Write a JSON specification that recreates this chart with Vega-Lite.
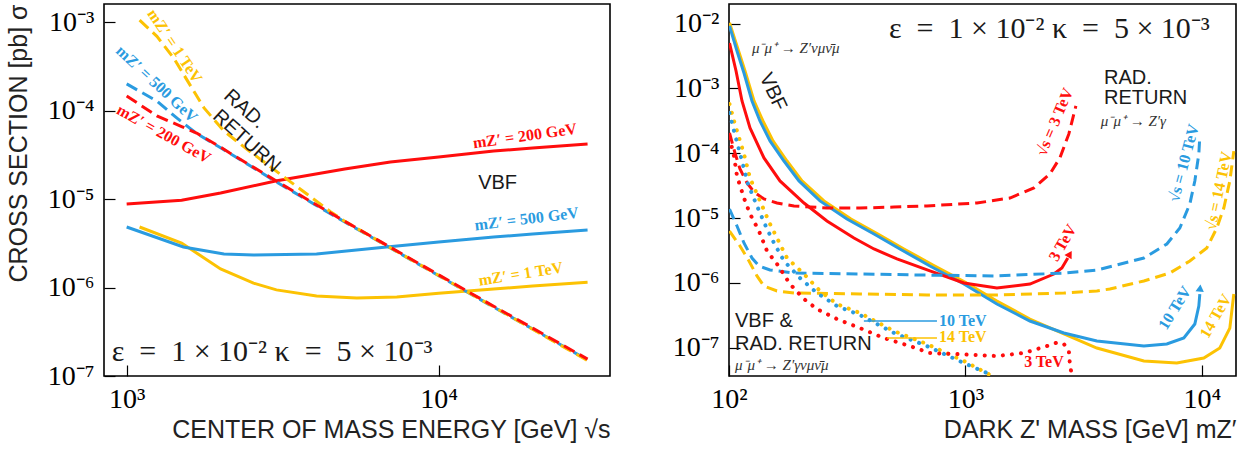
{
"$schema":"https://vega.github.io/schema/vega-lite/v6.json",
"background":"white",
"padding":{"left":5,"top":3,"right":0,"bottom":0},
"spacing":119,
"bounds":"flush",
"config":{
 "view":{"stroke":"#000","strokeWidth":1.6},
 "rule":{"color":"#000","strokeWidth":1.2},
 "axis":{"labelFont":"Liberation Serif","labelFontSize":28,"labelColor":"#000","titleFont":"Liberation Sans","titleFontSize":25,"titleFontWeight":"normal","titleColor":"#222","ticks":true,"tickColor":"#000","tickOpacity":1,"tickWidth":1.2,"domain":false,"grid":false,"labelFlush":false,"labelOverlap":false}
},
"datasets":{
 "LX":[{"v":900,"k":"minor"},{"v":1000,"k":"major"},{"v":2000,"k":"minor"},{"v":3000,"k":"minor"},{"v":4000,"k":"minor"},{"v":5000,"k":"minor"},{"v":6000,"k":"minor"},{"v":7000,"k":"minor"},{"v":8000,"k":"minor"},{"v":9000,"k":"minor"},{"v":10000,"k":"major"},{"v":20000,"k":"minor"},{"v":30000,"k":"minor"}],
 "LY":[{"v":1e-7,"k":"major"},{"v":2e-7,"k":"minor"},{"v":3e-7,"k":"minor"},{"v":4e-7,"k":"minor"},{"v":5e-7,"k":"minor"},{"v":6e-7,"k":"minor"},{"v":7e-7,"k":"minor"},{"v":8e-7,"k":"minor"},{"v":9e-7,"k":"minor"},{"v":1e-6,"k":"major"},{"v":2e-6,"k":"minor"},{"v":3e-6,"k":"minor"},{"v":4e-6,"k":"minor"},{"v":5e-6,"k":"minor"},{"v":6e-6,"k":"minor"},{"v":7e-6,"k":"minor"},{"v":8e-6,"k":"minor"},{"v":9e-6,"k":"minor"},{"v":1e-5,"k":"major"},{"v":2e-5,"k":"minor"},{"v":3e-5,"k":"minor"},{"v":4e-5,"k":"minor"},{"v":5e-5,"k":"minor"},{"v":6e-5,"k":"minor"},{"v":7e-5,"k":"minor"},{"v":8e-5,"k":"minor"},{"v":9e-5,"k":"minor"},{"v":1e-4,"k":"major"},{"v":2e-4,"k":"minor"},{"v":3e-4,"k":"minor"},{"v":4e-4,"k":"minor"},{"v":5e-4,"k":"minor"},{"v":6e-4,"k":"minor"},{"v":7e-4,"k":"minor"},{"v":8e-4,"k":"minor"},{"v":9e-4,"k":"minor"},{"v":1e-3,"k":"major"}],
 "RX":[{"v":100,"k":"major"},{"v":200,"k":"minor"},{"v":300,"k":"minor"},{"v":400,"k":"minor"},{"v":500,"k":"minor"},{"v":600,"k":"minor"},{"v":700,"k":"minor"},{"v":800,"k":"minor"},{"v":900,"k":"minor"},{"v":1000,"k":"major"},{"v":2000,"k":"minor"},{"v":3000,"k":"minor"},{"v":4000,"k":"minor"},{"v":5000,"k":"minor"},{"v":6000,"k":"minor"},{"v":7000,"k":"minor"},{"v":8000,"k":"minor"},{"v":9000,"k":"minor"},{"v":10000,"k":"major"}],
 "RY":[{"v":4e-8,"k":"minor"},{"v":5e-8,"k":"minor"},{"v":6e-8,"k":"minor"},{"v":7e-8,"k":"minor"},{"v":8e-8,"k":"minor"},{"v":9e-8,"k":"minor"},{"v":1e-7,"k":"major"},{"v":2e-7,"k":"minor"},{"v":3e-7,"k":"minor"},{"v":4e-7,"k":"minor"},{"v":5e-7,"k":"minor"},{"v":6e-7,"k":"minor"},{"v":7e-7,"k":"minor"},{"v":8e-7,"k":"minor"},{"v":9e-7,"k":"minor"},{"v":1e-6,"k":"major"},{"v":2e-6,"k":"minor"},{"v":3e-6,"k":"minor"},{"v":4e-6,"k":"minor"},{"v":5e-6,"k":"minor"},{"v":6e-6,"k":"minor"},{"v":7e-6,"k":"minor"},{"v":8e-6,"k":"minor"},{"v":9e-6,"k":"minor"},{"v":1e-5,"k":"major"},{"v":2e-5,"k":"minor"},{"v":3e-5,"k":"minor"},{"v":4e-5,"k":"minor"},{"v":5e-5,"k":"minor"},{"v":6e-5,"k":"minor"},{"v":7e-5,"k":"minor"},{"v":8e-5,"k":"minor"},{"v":9e-5,"k":"minor"},{"v":1e-4,"k":"major"},{"v":2e-4,"k":"minor"},{"v":3e-4,"k":"minor"},{"v":4e-4,"k":"minor"},{"v":5e-4,"k":"minor"},{"v":6e-4,"k":"minor"},{"v":7e-4,"k":"minor"},{"v":8e-4,"k":"minor"},{"v":9e-4,"k":"minor"},{"v":1e-3,"k":"major"},{"v":2e-3,"k":"minor"},{"v":3e-3,"k":"minor"},{"v":4e-3,"k":"minor"},{"v":5e-3,"k":"minor"},{"v":6e-3,"k":"minor"},{"v":7e-3,"k":"minor"},{"v":8e-3,"k":"minor"},{"v":9e-3,"k":"minor"},{"v":1e-2,"k":"major"}],
 "L":[
  {"p":"VBF","s":"1 TeV","x":1100,"y":4.83e-6},{"p":"VBF","s":"1 TeV","x":1500,"y":3.18e-6},{"p":"VBF","s":"1 TeV","x":2000,"y":1.62e-6},{"p":"VBF","s":"1 TeV","x":2550,"y":1.12e-6},{"p":"VBF","s":"1 TeV","x":3020,"y":9.4e-7},{"p":"VBF","s":"1 TeV","x":4060,"y":8.0e-7},{"p":"VBF","s":"1 TeV","x":5460,"y":7.6e-7},{"p":"VBF","s":"1 TeV","x":7340,"y":7.8e-7},{"p":"VBF","s":"1 TeV","x":10000,"y":8.6e-7},{"p":"VBF","s":"1 TeV","x":15000,"y":9.6e-7},{"p":"VBF","s":"1 TeV","x":20000,"y":1.04e-6},{"p":"VBF","s":"1 TeV","x":30000,"y":1.15e-6},
  {"p":"VBF","s":"500 GeV","x":1000,"y":4.83e-6},{"p":"VBF","s":"500 GeV","x":1520,"y":2.87e-6},{"p":"VBF","s":"500 GeV","x":2050,"y":2.39e-6},{"p":"VBF","s":"500 GeV","x":2550,"y":2.33e-6},{"p":"VBF","s":"500 GeV","x":4060,"y":2.39e-6},{"p":"VBF","s":"500 GeV","x":6810,"y":2.87e-6},{"p":"VBF","s":"500 GeV","x":10000,"y":3.27e-6},{"p":"VBF","s":"500 GeV","x":15000,"y":3.72e-6},{"p":"VBF","s":"500 GeV","x":20000,"y":4.03e-6},{"p":"VBF","s":"500 GeV","x":30000,"y":4.46e-6},
  {"p":"VBF","s":"200 GeV","x":1000,"y":8.8e-6},{"p":"VBF","s":"200 GeV","x":1500,"y":9.7e-6},{"p":"VBF","s":"200 GeV","x":2000,"y":1.17e-5},{"p":"VBF","s":"200 GeV","x":3000,"y":1.6e-5},{"p":"VBF","s":"200 GeV","x":5000,"y":2.18e-5},{"p":"VBF","s":"200 GeV","x":7000,"y":2.62e-5},{"p":"VBF","s":"200 GeV","x":10000,"y":2.98e-5},{"p":"VBF","s":"200 GeV","x":15000,"y":3.49e-5},{"p":"VBF","s":"200 GeV","x":20000,"y":3.77e-5},{"p":"VBF","s":"200 GeV","x":30000,"y":4.18e-5},
  {"p":"RR","s":"500 GeV","x":1000,"y":2.0e-4},{"p":"RR","s":"500 GeV","x":1250,"y":1.28e-4},{"p":"RR","s":"500 GeV","x":1450,"y":8.2e-5},{"p":"RR","s":"500 GeV","x":1675,"y":5.5e-5},{"p":"RR","s":"500 GeV","x":2000,"y":3.8e-5},{"p":"RR","s":"500 GeV","x":2500,"y":2.35e-5},{"p":"RR","s":"500 GeV","x":3000,"y":1.58e-5},{"p":"RR","s":"500 GeV","x":4000,"y":8.7e-6},{"p":"RR","s":"500 GeV","x":5000,"y":5.5e-6},{"p":"RR","s":"500 GeV","x":7000,"y":2.8e-6},{"p":"RR","s":"500 GeV","x":10000,"y":1.36e-6},{"p":"RR","s":"500 GeV","x":15000,"y":6.0e-7},{"p":"RR","s":"500 GeV","x":20000,"y":3.4e-7},{"p":"RR","s":"500 GeV","x":30000,"y":1.52e-7},
  {"p":"RR","s":"1 TeV","x":1100,"y":1.05e-3},{"p":"RR","s":"1 TeV","x":1250,"y":6.9e-4},{"p":"RR","s":"1 TeV","x":1415,"y":3.92e-4},{"p":"RR","s":"1 TeV","x":1590,"y":1.99e-4},{"p":"RR","s":"1 TeV","x":1770,"y":1.07e-4},{"p":"RR","s":"1 TeV","x":2050,"y":5.87e-5},{"p":"RR","s":"1 TeV","x":2425,"y":3.67e-5},{"p":"RR","s":"1 TeV","x":2810,"y":2.49e-5},{"p":"RR","s":"1 TeV","x":3260,"y":1.68e-5},{"p":"RR","s":"1 TeV","x":3780,"y":1.14e-5},{"p":"RR","s":"1 TeV","x":4500,"y":7.2e-6},{"p":"RR","s":"1 TeV","x":5000,"y":5.6e-6},{"p":"RR","s":"1 TeV","x":7000,"y":2.82e-6},{"p":"RR","s":"1 TeV","x":10000,"y":1.37e-6},{"p":"RR","s":"1 TeV","x":15000,"y":6.05e-7},{"p":"RR","s":"1 TeV","x":20000,"y":3.38e-7},{"p":"RR","s":"1 TeV","x":30000,"y":1.49e-7},
  {"p":"RR","s":"200 GeV","x":1000,"y":1.46e-4},{"p":"RR","s":"200 GeV","x":1250,"y":8.7e-5},{"p":"RR","s":"200 GeV","x":1500,"y":6.6e-5},{"p":"RR","s":"200 GeV","x":1675,"y":5.57e-5},{"p":"RR","s":"200 GeV","x":2000,"y":3.85e-5},{"p":"RR","s":"200 GeV","x":2140,"y":3.31e-5},{"p":"RR","s":"200 GeV","x":2500,"y":2.38e-5},{"p":"RR","s":"200 GeV","x":3090,"y":1.52e-5},{"p":"RR","s":"200 GeV","x":3865,"y":9.5e-6},{"p":"RR","s":"200 GeV","x":5000,"y":5.6e-6},{"p":"RR","s":"200 GeV","x":7000,"y":2.85e-6},{"p":"RR","s":"200 GeV","x":10000,"y":1.39e-6},{"p":"RR","s":"200 GeV","x":15000,"y":6.15e-7},{"p":"RR","s":"200 GeV","x":20000,"y":3.48e-7},{"p":"RR","s":"200 GeV","x":30000,"y":1.55e-7}
 ],
 "R":[
  {"p":"VBF","s":"14 TeV","x":100.5,"y":1.03e-2},{"p":"VBF","s":"14 TeV","x":109.1,"y":4.07e-3},{"p":"VBF","s":"14 TeV","x":116.9,"y":1.86e-3},{"p":"VBF","s":"14 TeV","x":127.6,"y":6.41e-4},{"p":"VBF","s":"14 TeV","x":139.2,"y":3.15e-4},{"p":"VBF","s":"14 TeV","x":153.5,"y":1.55e-4},{"p":"VBF","s":"14 TeV","x":175.9,"y":7.6e-5},{"p":"VBF","s":"14 TeV","x":203.6,"y":3.74e-5},{"p":"VBF","s":"14 TeV","x":252.2,"y":1.84e-5},{"p":"VBF","s":"14 TeV","x":328.1,"y":9.68e-6},{"p":"VBF","s":"14 TeV","x":426.6,"y":5.69e-6},{"p":"VBF","s":"14 TeV","x":549.5,"y":3.34e-6},{"p":"VBF","s":"14 TeV","x":728.8,"y":1.89e-6},{"p":"VBF","s":"14 TeV","x":995,"y":1.03e-6},{"p":"VBF","s":"14 TeV","x":1359,"y":5.26e-7},{"p":"VBF","s":"14 TeV","x":1874,"y":2.77e-7},{"p":"VBF","s":"14 TeV","x":2609,"y":1.63e-7},{"p":"VBF","s":"14 TeV","x":3597,"y":9.89e-8},{"p":"VBF","s":"14 TeV","x":5686,"y":6.23e-8},{"p":"VBF","s":"14 TeV","x":7840,"y":5.8e-8},{"p":"VBF","s":"14 TeV","x":10196,"y":6.93e-8},{"p":"VBF","s":"14 TeV","x":11914,"y":9.89e-8},{"p":"VBF","s":"14 TeV","x":13136,"y":2.01e-7},{"p":"VBF","s":"14 TeV","x":13655,"y":6.74e-7},
  {"p":"VBF","s":"10 TeV","x":100.5,"y":9.22e-3},{"p":"VBF","s":"10 TeV","x":108.1,"y":3.79e-3},{"p":"VBF","s":"10 TeV","x":115.7,"y":1.73e-3},{"p":"VBF","s":"10 TeV","x":125.1,"y":6.41e-4},{"p":"VBF","s":"10 TeV","x":135.2,"y":3.15e-4},{"p":"VBF","s":"10 TeV","x":149.1,"y":1.55e-4},{"p":"VBF","s":"10 TeV","x":170.8,"y":7.6e-5},{"p":"VBF","s":"10 TeV","x":197.7,"y":3.74e-5},{"p":"VBF","s":"10 TeV","x":242.6,"y":1.84e-5},{"p":"VBF","s":"10 TeV","x":315.5,"y":9.68e-6},{"p":"VBF","s":"10 TeV","x":410.5,"y":5.69e-6},{"p":"VBF","s":"10 TeV","x":528.5,"y":3.34e-6},{"p":"VBF","s":"10 TeV","x":707.8,"y":1.82e-6},{"p":"VBF","s":"10 TeV","x":985.6,"y":9.61e-7},{"p":"VBF","s":"10 TeV","x":1359,"y":4.72e-7},{"p":"VBF","s":"10 TeV","x":1874,"y":2.58e-7},{"p":"VBF","s":"10 TeV","x":2609,"y":1.69e-7},{"p":"VBF","s":"10 TeV","x":3597,"y":1.27e-7},{"p":"VBF","s":"10 TeV","x":5686,"y":1.06e-7},{"p":"VBF","s":"10 TeV","x":7112,"y":1.14e-7},{"p":"VBF","s":"10 TeV","x":8393,"y":1.41e-7},{"p":"VBF","s":"10 TeV","x":9342,"y":2.32e-7},{"p":"VBF","s":"10 TeV","x":9712,"y":4.4e-7},{"p":"VBF","s":"10 TeV","x":9807,"y":6.74e-7},
  {"p":"VBF","s":"3 TeV","x":100.5,"y":5.03e-3},{"p":"VBF","s":"3 TeV","x":107.1,"y":1.86e-3},{"p":"VBF","s":"3 TeV","x":113.5,"y":6.41e-4},{"p":"VBF","s":"3 TeV","x":122.7,"y":2.46e-4},{"p":"VBF","s":"3 TeV","x":140.6,"y":8.46e-5},{"p":"VBF","s":"3 TeV","x":164.3,"y":3.74e-5},{"p":"VBF","s":"3 TeV","x":207.6,"y":1.71e-5},{"p":"VBF","s":"3 TeV","x":259.6,"y":9.02e-6},{"p":"VBF","s":"3 TeV","x":337.8,"y":4.93e-6},{"p":"VBF","s":"3 TeV","x":410.5,"y":3.34e-6},{"p":"VBF","s":"3 TeV","x":513.4,"y":2.34e-6},{"p":"VBF","s":"3 TeV","x":707.8,"y":1.53e-6},{"p":"VBF","s":"3 TeV","x":985.6,"y":9.96e-7},{"p":"VBF","s":"3 TeV","x":1359,"y":8.34e-7},{"p":"VBF","s":"3 TeV","x":1874,"y":9.61e-7},{"p":"VBF","s":"3 TeV","x":2367,"y":1.37e-6},{"p":"VBF","s":"3 TeV","x":2559,"y":1.7e-6},{"p":"VBF","s":"3 TeV","x":2711,"y":2.42e-6},
  {"p":"RR","s":"14 TeV","x":100.5,"y":6.32e-6},{"p":"RR","s":"14 TeV","x":111.3,"y":3.71e-6},{"p":"RR","s":"14 TeV","x":121.5,"y":2.18e-6},{"p":"RR","s":"14 TeV","x":131.3,"y":1.28e-6},{"p":"RR","s":"14 TeV","x":140.6,"y":8.95e-7},{"p":"RR","s":"14 TeV","x":159.6,"y":7.5e-7},{"p":"RR","s":"14 TeV","x":188.3,"y":6.98e-7},{"p":"RR","s":"14 TeV","x":358.1,"y":6.74e-7},{"p":"RR","s":"14 TeV","x":687.4,"y":6.51e-7},{"p":"RR","s":"14 TeV","x":1359,"y":6.51e-7},{"p":"RR","s":"14 TeV","x":2609,"y":6.98e-7},{"p":"RR","s":"14 TeV","x":3597,"y":7.5e-7},{"p":"RR","s":"14 TeV","x":4083,"y":8.05e-7},{"p":"RR","s":"14 TeV","x":5686,"y":1.07e-6},{"p":"RR","s":"14 TeV","x":7323,"y":1.42e-6},{"p":"RR","s":"14 TeV","x":8899,"y":2.18e-6},{"p":"RR","s":"14 TeV","x":10499,"y":3.46e-6},{"p":"RR","s":"14 TeV","x":11572,"y":7.03e-6},{"p":"RR","s":"14 TeV","x":12389,"y":1.43e-5},{"p":"RR","s":"14 TeV","x":13136,"y":3.74e-5},{"p":"RR","s":"14 TeV","x":13655,"y":1.08e-4},
  {"p":"RR","s":"10 TeV","x":100.5,"y":1.38e-5},{"p":"RR","s":"10 TeV","x":108.1,"y":7.55e-6},{"p":"RR","s":"10 TeV","x":115.7,"y":4.13e-6},{"p":"RR","s":"10 TeV","x":125.1,"y":2.42e-6},{"p":"RR","s":"10 TeV","x":133.9,"y":1.82e-6},{"p":"RR","s":"10 TeV","x":149.1,"y":1.58e-6},{"p":"RR","s":"10 TeV","x":188.3,"y":1.42e-6},{"p":"RR","s":"10 TeV","x":358.1,"y":1.37e-6},{"p":"RR","s":"10 TeV","x":687.4,"y":1.32e-6},{"p":"RR","s":"10 TeV","x":1359,"y":1.28e-6},{"p":"RR","s":"10 TeV","x":2609,"y":1.42e-6},{"p":"RR","s":"10 TeV","x":3597,"y":1.58e-6},{"p":"RR","s":"10 TeV","x":5686,"y":2.42e-6},{"p":"RR","s":"10 TeV","x":7112,"y":3.98e-6},{"p":"RR","s":"10 TeV","x":8072,"y":7.03e-6},{"p":"RR","s":"10 TeV","x":8899,"y":1.65e-5},{"p":"RR","s":"10 TeV","x":9342,"y":3.74e-5},{"p":"RR","s":"10 TeV","x":9712,"y":9.75e-5},{"p":"RR","s":"10 TeV","x":9807,"y":1.85e-4},
  {"p":"RR","s":"3 TeV","x":100.5,"y":2.06e-4},{"p":"RR","s":"3 TeV","x":106,"y":1.01e-4},{"p":"RR","s":"3 TeV","x":111.3,"y":5.73e-5},{"p":"RR","s":"3 TeV","x":119.2,"y":3.48e-5},{"p":"RR","s":"3 TeV","x":127.6,"y":2.53e-5},{"p":"RR","s":"3 TeV","x":140.6,"y":1.97e-5},{"p":"RR","s":"3 TeV","x":159.6,"y":1.71e-5},{"p":"RR","s":"3 TeV","x":188.3,"y":1.54e-5},{"p":"RR","s":"3 TeV","x":259.6,"y":1.43e-5},{"p":"RR","s":"3 TeV","x":358.1,"y":1.43e-5},{"p":"RR","s":"3 TeV","x":498.6,"y":1.48e-5},{"p":"RR","s":"3 TeV","x":687.4,"y":1.54e-5},{"p":"RR","s":"3 TeV","x":1119,"y":1.71e-5},{"p":"RR","s":"3 TeV","x":1543,"y":2.04e-5},{"p":"RR","s":"3 TeV","x":1948,"y":2.92e-5},{"p":"RR","s":"3 TeV","x":2277,"y":4.8e-5},{"p":"RR","s":"3 TeV","x":2509,"y":8.46e-5},{"p":"RR","s":"3 TeV","x":2739,"y":1.99e-4},{"p":"RR","s":"3 TeV","x":2933,"y":5.37e-4},
  {"p":"BOTH","s":"14 TeV","x":100.5,"y":5.77e-4},{"p":"BOTH","s":"14 TeV","x":105,"y":3.15e-4},{"p":"BOTH","s":"14 TeV","x":115.7,"y":9.75e-5},{"p":"BOTH","s":"14 TeV","x":122.7,"y":4.16e-5},{"p":"BOTH","s":"14 TeV","x":135.2,"y":1.84e-5},{"p":"BOTH","s":"14 TeV","x":149.1,"y":8.11e-6},{"p":"BOTH","s":"14 TeV","x":159.6,"y":4.93e-6},{"p":"BOTH","s":"14 TeV","x":175.9,"y":2.42e-6},{"p":"BOTH","s":"14 TeV","x":207.6,"y":1.37e-6},{"p":"BOTH","s":"14 TeV","x":242.6,"y":7.5e-7},{"p":"BOTH","s":"14 TeV","x":286.2,"y":4.72e-7},{"p":"BOTH","s":"14 TeV","x":358.1,"y":3.43e-7},{"p":"BOTH","s":"14 TeV","x":498.6,"y":1.81e-7},{"p":"BOTH","s":"14 TeV","x":687.4,"y":1.14e-7},{"p":"BOTH","s":"14 TeV","x":985.6,"y":6.23e-8},{"p":"BOTH","s":"14 TeV","x":1290,"y":3.7e-8},
  {"p":"BOTH","s":"10 TeV","x":100.5,"y":4.19e-4},{"p":"BOTH","s":"10 TeV","x":105,"y":2.21e-4},{"p":"BOTH","s":"10 TeV","x":113.5,"y":7.6e-5},{"p":"BOTH","s":"10 TeV","x":120.3,"y":3.36e-5},{"p":"BOTH","s":"10 TeV","x":131.3,"y":1.54e-5},{"p":"BOTH","s":"10 TeV","x":144.8,"y":6.79e-6},{"p":"BOTH","s":"10 TeV","x":155,"y":4.13e-6},{"p":"BOTH","s":"10 TeV","x":170.8,"y":2.18e-6},{"p":"BOTH","s":"10 TeV","x":199.7,"y":1.19e-6},{"p":"BOTH","s":"10 TeV","x":235.6,"y":6.98e-7},{"p":"BOTH","s":"10 TeV","x":286.2,"y":4.4e-7},{"p":"BOTH","s":"10 TeV","x":358.1,"y":3.19e-7},{"p":"BOTH","s":"10 TeV","x":498.6,"y":1.69e-7},{"p":"BOTH","s":"10 TeV","x":687.4,"y":1.06e-7},{"p":"BOTH","s":"10 TeV","x":985.6,"y":5.8e-8},{"p":"BOTH","s":"10 TeV","x":1320,"y":3.66e-8},
  {"p":"BOTH","s":"3 TeV","x":100.5,"y":1.72e-4},{"p":"BOTH","s":"3 TeV","x":105,"y":9.08e-5},{"p":"BOTH","s":"3 TeV","x":108.1,"y":4.44e-5},{"p":"BOTH","s":"3 TeV","x":115.7,"y":2.04e-5},{"p":"BOTH","s":"3 TeV","x":122.7,"y":1.16e-5},{"p":"BOTH","s":"3 TeV","x":133.9,"y":6.32e-6},{"p":"BOTH","s":"3 TeV","x":144.8,"y":3.1e-6},{"p":"BOTH","s":"3 TeV","x":159.6,"y":1.96e-6},{"p":"BOTH","s":"3 TeV","x":181.1,"y":9.61e-7},{"p":"BOTH","s":"3 TeV","x":207.6,"y":5.64e-7},{"p":"BOTH","s":"3 TeV","x":235.6,"y":3.95e-7},{"p":"BOTH","s":"3 TeV","x":286.2,"y":2.77e-7},{"p":"BOTH","s":"3 TeV","x":358.1,"y":2.01e-7},{"p":"BOTH","s":"3 TeV","x":452.3,"y":1.41e-7},{"p":"BOTH","s":"3 TeV","x":582.5,"y":1.06e-7},{"p":"BOTH","s":"3 TeV","x":707.8,"y":8.28e-8},{"p":"BOTH","s":"3 TeV","x":920.5,"y":7.98e-8},{"p":"BOTH","s":"3 TeV","x":1359,"y":7.44e-8},{"p":"BOTH","s":"3 TeV","x":1768,"y":8.28e-8},{"p":"BOTH","s":"3 TeV","x":2211,"y":1.06e-7},{"p":"BOTH","s":"3 TeV","x":2440,"y":1.2e-7},{"p":"BOTH","s":"3 TeV","x":2609,"y":1.14e-7},{"p":"BOTH","s":"3 TeV","x":2739,"y":8.89e-8},{"p":"BOTH","s":"3 TeV","x":2766,"y":5.6e-8},{"p":"BOTH","s":"3 TeV","x":2820,"y":3.7e-8}
 ]
},
"hconcat":[
{
 "width":506,"height":372,
 "data":{"name":"L"},
 "resolve":{"axis":{"x":"independent","y":"independent"}},
 "encoding":{
  "x":{"field":"x","type":"quantitative","scale":{"type":"log","domain":[846,35400],"nice":false},"axis":null},
  "y":{"field":"y","type":"quantitative","scale":{"type":"log","domain":[1e-7,1.6e-3],"nice":false},"axis":null}
 },
 "layer":[
  {"transform":[{"filter":"datum.p=='VBF'"}],"mark":{"type":"line","opacity":0},
   "encoding":{
    "x":{"field":"x","type":"quantitative","scale":{"type":"log","domain":[846,35400],"nice":false},
     "axis":{"orient":"bottom","offset":-11,"values":[1000,10000],"labelExpr":"datum.value==1000?'10³':'10⁴'","tickSize":11,"labelPadding":9,"title":"CENTER OF MASS ENERGY [GeV]  √s","titleAnchor":"end","titlePadding":4}},
    "y":{"field":"y","type":"quantitative","scale":{"type":"log","domain":[1e-7,1.6e-3],"nice":false},
     "axis":{"orient":"left","offset":-11,"values":[1e-7,1e-6,1e-5,1e-4,1e-3],"labelExpr":"datum.value==0.001?'10⁻³':datum.value==0.0001?'10⁻⁴':datum.value==0.00001?'10⁻⁵':datum.value==0.000001?'10⁻⁶':'10⁻⁷'","tickSize":11,"labelPadding":10,"title":"CROSS SECTION [pb]  σ","titleAnchor":"end","titlePadding":16}}
   }},
  {"data":{"name":"LX"},"transform":[{"filter":"datum.k=='major'"}],"mark":{"type":"rule"},"encoding":{"x":{"field":"v","type":"quantitative"},"y":{"datum":1e-7,"type":"quantitative"},"y2":{"datum":1.331e-7}}},
  {"data":{"name":"LX"},"transform":[{"filter":"datum.k=='minor'"}],"mark":{"type":"rule"},"encoding":{"x":{"field":"v","type":"quantitative"},"y":{"datum":1e-7,"type":"quantitative"},"y2":{"datum":1.169e-7}}},
  {"data":{"name":"LX"},"transform":[{"filter":"datum.k=='major'"}],"mark":{"type":"rule"},"encoding":{"x":{"field":"v","type":"quantitative"},"y":{"datum":1.6e-3,"type":"quantitative"},"y2":{"datum":1.202e-3}}},
  {"data":{"name":"LX"},"transform":[{"filter":"datum.k=='minor'"}],"mark":{"type":"rule"},"encoding":{"x":{"field":"v","type":"quantitative"},"y":{"datum":1.6e-3,"type":"quantitative"},"y2":{"datum":1.369e-3}}},
  {"data":{"name":"LY"},"transform":[{"filter":"datum.k=='major'"}],"mark":{"type":"rule"},"encoding":{"y":{"field":"v","type":"quantitative"},"x":{"datum":846,"type":"quantitative"},"x2":{"datum":917.6}}},
  {"data":{"name":"LY"},"transform":[{"filter":"datum.k=='minor'"}],"mark":{"type":"rule"},"encoding":{"y":{"field":"v","type":"quantitative"},"x":{"datum":846,"type":"quantitative"},"x2":{"datum":884.3}}},
  {"data":{"name":"LY"},"transform":[{"filter":"datum.k=='major'"}],"mark":{"type":"rule"},"encoding":{"y":{"field":"v","type":"quantitative"},"x":{"datum":35400,"type":"quantitative"},"x2":{"datum":32638}}},
  {"data":{"name":"LY"},"transform":[{"filter":"datum.k=='minor'"}],"mark":{"type":"rule"},"encoding":{"y":{"field":"v","type":"quantitative"},"x":{"datum":35400,"type":"quantitative"},"x2":{"datum":33866}}},
  {"transform":[{"filter":"datum.p=='VBF'"}],
   "mark":{"type":"line","strokeWidth":3,"clip":true},
   "encoding":{"color":{"field":"s","type":"nominal","scale":{"domain":["1 TeV","500 GeV","200 GeV"],"range":["#fcc203","#2a9be0","#ff0d0d"]},"legend":null}}},
  {"transform":[{"filter":"datum.p=='RR'"}],
   "mark":{"type":"line","strokeWidth":3,"strokeDash":[12,6],"clip":true},
   "encoding":{"color":{"field":"s","type":"nominal","scale":{"domain":["1 TeV","500 GeV","200 GeV"],"range":["#fcc203","#2a9be0","#ff0d0d"]},"legend":null}}},
  {"data":{"values":[{"x":1425,"y":5.36e-4,"t":"mZ′ = 1 TeV"}]},"mark":{"type":"text","angle":56,"color":"#fcc203","font":"Liberation Serif","fontWeight":"bold","fontSize":16},"encoding":{"text":{"field":"t"}}},
  {"data":{"values":[{"x":1248,"y":1.99e-4,"t":"mZ′ = 500 GeV"}]},"mark":{"type":"text","angle":43,"color":"#2a9be0","font":"Liberation Serif","fontWeight":"bold","fontSize":16},"encoding":{"text":{"field":"t"}}},
  {"data":{"values":[{"x":1314,"y":5.42e-5,"t":"mZ′ = 200 GeV"}]},"mark":{"type":"text","angle":29,"color":"#ff0d0d","font":"Liberation Serif","fontWeight":"bold","fontSize":16},"encoding":{"text":{"field":"t"}}},
  {"data":{"values":[{"x":2388,"y":1.04e-4,"t":"RAD."},{"x":2424,"y":4.52e-5,"t":"RETURN"}]},"mark":{"type":"text","angle":42,"color":"#1a1a1a","font":"Liberation Sans","fontSize":20},"encoding":{"text":{"field":"t"}}},
  {"data":{"values":[{"x":18880,"y":5.15e-5,"t":"mZ′ = 200 GeV"}]},"mark":{"type":"text","angle":-8,"color":"#ff0d0d","font":"Liberation Serif","fontWeight":"bold","fontSize":16},"encoding":{"text":{"field":"t"}}},
  {"data":{"values":[{"x":15450,"y":1.52e-5,"t":"VBF"}]},"mark":{"type":"text","color":"#1a1a1a","font":"Liberation Sans","fontSize":20},"encoding":{"text":{"field":"t"}}},
  {"data":{"values":[{"x":19140,"y":5.94e-6,"t":"mZ′ = 500 GeV"}]},"mark":{"type":"text","angle":-7,"color":"#2a9be0","font":"Liberation Serif","fontWeight":"bold","fontSize":16},"encoding":{"text":{"field":"t"}}},
  {"data":{"values":[{"x":18320,"y":1.42e-6,"t":"mZ′ = 1 TeV"}]},"mark":{"type":"text","angle":-9,"color":"#fcc203","font":"Liberation Serif","fontWeight":"bold","fontSize":16},"encoding":{"text":{"field":"t"}}},
  {"data":{"values":[{"x":895,"y":1.48e-7,"t":"ε\u2002=\u20021 × 10⁻²    κ\u2002=\u20025 × 10⁻³"}]},"mark":{"type":"text","align":"left","baseline":"alphabetic","color":"#1a1a1a","font":"Liberation Serif","fontSize":30},"encoding":{"text":{"field":"t"}}}
 ]
},
{
 "width":507,"height":372,
 "data":{"name":"R"},
 "resolve":{"axis":{"x":"independent","y":"independent"}},
 "encoding":{
  "x":{"field":"x","type":"quantitative","scale":{"type":"log","domain":[100,13950],"nice":false},"axis":null},
  "y":{"field":"y","type":"quantitative","scale":{"type":"log","domain":[3.66e-8,2.01e-2],"nice":false},"axis":null}
 },
 "layer":[
  {"transform":[{"filter":"datum.p=='VBF'"}],"mark":{"type":"line","opacity":0},
   "encoding":{
    "x":{"field":"x","type":"quantitative","scale":{"type":"log","domain":[100,13950],"nice":false},
     "axis":{"orient":"bottom","offset":-11,"values":[100,1000,10000],"labelExpr":"datum.value==100?'10²':datum.value==1000?'10³':'10⁴'","tickSize":11,"labelPadding":9,"title":"DARK Z' MASS [GeV]  mZ′","titleAnchor":"end","titlePadding":4}},
    "y":{"field":"y","type":"quantitative","scale":{"type":"log","domain":[3.66e-8,2.01e-2],"nice":false},
     "axis":{"orient":"left","offset":-11,"values":[1e-7,1e-6,1e-5,1e-4,1e-3,1e-2],"labelExpr":"datum.value==0.01?'10⁻²':datum.value==0.001?'10⁻³':datum.value==0.0001?'10⁻⁴':datum.value==0.00001?'10⁻⁵':datum.value==0.000001?'10⁻⁶':'10⁻⁷'","tickSize":11,"labelPadding":10,"title":null}}
   }},
  {"data":{"name":"RX"},"transform":[{"filter":"datum.k=='major'"}],"mark":{"type":"rule"},"encoding":{"x":{"field":"v","type":"quantitative"},"y":{"datum":3.66e-8,"type":"quantitative"},"y2":{"datum":5.413e-8}}},
  {"data":{"name":"RX"},"transform":[{"filter":"datum.k=='minor'"}],"mark":{"type":"rule"},"encoding":{"x":{"field":"v","type":"quantitative"},"y":{"datum":3.66e-8,"type":"quantitative"},"y2":{"datum":4.531e-8}}},
  {"data":{"name":"RX"},"transform":[{"filter":"datum.k=='major'"}],"mark":{"type":"rule"},"encoding":{"x":{"field":"v","type":"quantitative"},"y":{"datum":2.01e-2,"type":"quantitative"},"y2":{"datum":1.359e-2}}},
  {"data":{"name":"RX"},"transform":[{"filter":"datum.k=='minor'"}],"mark":{"type":"rule"},"encoding":{"x":{"field":"v","type":"quantitative"},"y":{"datum":2.01e-2,"type":"quantitative"},"y2":{"datum":1.624e-2}}},
  {"data":{"name":"RY"},"transform":[{"filter":"datum.k=='major'"}],"mark":{"type":"rule"},"encoding":{"y":{"field":"v","type":"quantitative"},"x":{"datum":100,"type":"quantitative"},"x2":{"datum":111.3}}},
  {"data":{"name":"RY"},"transform":[{"filter":"datum.k=='minor'"}],"mark":{"type":"rule"},"encoding":{"y":{"field":"v","type":"quantitative"},"x":{"datum":100,"type":"quantitative"},"x2":{"datum":106.0}}},
  {"data":{"name":"RY"},"transform":[{"filter":"datum.k=='major'"}],"mark":{"type":"rule"},"encoding":{"y":{"field":"v","type":"quantitative"},"x":{"datum":13950,"type":"quantitative"},"x2":{"datum":12533}}},
  {"data":{"name":"RY"},"transform":[{"filter":"datum.k=='minor'"}],"mark":{"type":"rule"},"encoding":{"y":{"field":"v","type":"quantitative"},"x":{"datum":13950,"type":"quantitative"},"x2":{"datum":13158}}},
  {"transform":[{"filter":"datum.p=='VBF'"}],
   "mark":{"type":"line","strokeWidth":3,"clip":true},
   "encoding":{"color":{"field":"s","type":"nominal","scale":{"domain":["14 TeV","10 TeV","3 TeV"],"range":["#fcc203","#2a9be0","#ff0d0d"]},"legend":null}}},
  {"transform":[{"filter":"datum.p=='RR'"}],
   "mark":{"type":"line","strokeWidth":3,"strokeDash":[11,6],"clip":true},
   "encoding":{"color":{"field":"s","type":"nominal","scale":{"domain":["14 TeV","10 TeV","3 TeV"],"range":["#fcc203","#2a9be0","#ff0d0d"]},"legend":null}}},
  {"transform":[{"filter":"datum.p=='BOTH'"}],
   "mark":{"type":"line","strokeWidth":4,"strokeDash":[0.1,9],"strokeCap":"round","clip":true},
   "encoding":{"color":{"field":"s","type":"nominal","scale":{"domain":["14 TeV","10 TeV","3 TeV"],"range":["#fcc203","#2a9be0","#ff0d0d"]},"legend":null}}},
  {"data":{"values":[{"x":2766,"y":2.79e-6}]},"mark":{"type":"point","shape":"triangle-up","filled":true,"opacity":1,"size":70,"angle":31,"color":"#ff0d0d"}},
  {"data":{"values":[{"x":9830,"y":8.34e-7}]},"mark":{"type":"point","shape":"triangle-up","filled":true,"opacity":1,"size":70,"angle":6,"color":"#2a9be0"}},
  {"data":{"values":[{"x":372,"x2":758,"y":2.58e-7}]},"mark":{"type":"rule","color":"#2a9be0","strokeWidth":1.5},"encoding":{"x2":{"field":"x2"}}},
  {"data":{"values":[{"x":466,"x2":758,"y":1.41e-7}]},"mark":{"type":"rule","color":"#fcc203","strokeWidth":1.5},"encoding":{"x2":{"field":"x2"}}},
  {"data":{"values":[{"x":475,"y":6.0e-3,"t":"ε\u2002=\u20021 × 10⁻²    κ\u2002=\u20025 × 10⁻³"}]},"mark":{"type":"text","align":"left","baseline":"alphabetic","color":"#1a1a1a","font":"Liberation Serif","fontSize":30},"encoding":{"text":{"field":"t"}}},
  {"data":{"values":[{"x":125,"y":4.22e-3,"t":"μ⁻μ⁺ → Z′νμν̄μ"},{"x":3741,"y":3.15e-4,"t":"μ⁻μ⁺ → Z′γ"},{"x":106,"y":5.4e-8,"t":"μ⁻μ⁺ → Z′γνμν̄μ"}]},"mark":{"type":"text","align":"left","color":"#333","font":"Liberation Serif","fontStyle":"italic","fontSize":15},"encoding":{"text":{"field":"t"}}},
  {"data":{"values":[{"x":153.5,"y":8.83e-4,"t":"VBF"}]},"mark":{"type":"text","angle":65,"color":"#1a1a1a","font":"Liberation Sans","fontSize":20},"encoding":{"text":{"field":"t"}}},
  {"data":{"values":[{"x":3855,"y":1.45e-3,"t":"RAD."},{"x":3855,"y":7.13e-4,"t":"RETURN"},{"x":106,"y":2.58e-7,"t":"VBF &"},{"x":106,"y":1.14e-7,"t":"RAD. RETURN"}]},"mark":{"type":"text","align":"left","color":"#1a1a1a","font":"Liberation Sans","fontSize":20},"encoding":{"text":{"field":"t"}}},
  {"data":{"values":[{"x":2388,"y":3.04e-4,"t":"√s = 3 TeV"}]},"mark":{"type":"text","angle":-67,"color":"#ff0d0d","font":"Liberation Serif","fontWeight":"bold","fontSize":16},"encoding":{"text":{"field":"t"}}},
  {"data":{"values":[{"x":8395,"y":7.08e-5,"t":"√s = 10 TeV"}]},"mark":{"type":"text","angle":-75,"color":"#2a9be0","font":"Liberation Serif","fontWeight":"bold","fontSize":16},"encoding":{"text":{"field":"t"}}},
  {"data":{"values":[{"x":11800,"y":2.62e-5,"t":"√s = 14 TeV"}]},"mark":{"type":"text","angle":-78,"color":"#fcc203","font":"Liberation Serif","fontWeight":"bold","fontSize":16},"encoding":{"text":{"field":"t"}}},
  {"data":{"values":[{"x":2582,"y":4.13e-6,"t":"3 TeV"}]},"mark":{"type":"text","angle":-60,"color":"#ff0d0d","font":"Liberation Serif","fontWeight":"bold","fontSize":16},"encoding":{"text":{"field":"t"}}},
  {"data":{"values":[{"x":7690,"y":4.1e-7,"t":"10 TeV"}]},"mark":{"type":"text","angle":-58,"color":"#2a9be0","font":"Liberation Serif","fontWeight":"bold","fontSize":16},"encoding":{"text":{"field":"t"}}},
  {"data":{"values":[{"x":11460,"y":3.08e-7,"t":"14 TeV"}]},"mark":{"type":"text","angle":-60,"color":"#fcc203","font":"Liberation Serif","fontWeight":"bold","fontSize":16},"encoding":{"text":{"field":"t"}}},
  {"data":{"values":[{"x":2148,"y":6.0e-8,"t":"3 TeV"}]},"mark":{"type":"text","color":"#ff0d0d","font":"Liberation Serif","fontWeight":"bold","fontSize":16},"encoding":{"text":{"field":"t"}}},
  {"data":{"values":[{"x":773,"y":2.58e-7,"t":"10 TeV"}]},"mark":{"type":"text","align":"left","color":"#2a9be0","font":"Liberation Serif","fontWeight":"bold","fontSize":16},"encoding":{"text":{"field":"t"}}},
  {"data":{"values":[{"x":773,"y":1.46e-7,"t":"14 TeV"}]},"mark":{"type":"text","align":"left","color":"#fcc203","font":"Liberation Serif","fontWeight":"bold","fontSize":16},"encoding":{"text":{"field":"t"}}}
 ]
}
]
}
